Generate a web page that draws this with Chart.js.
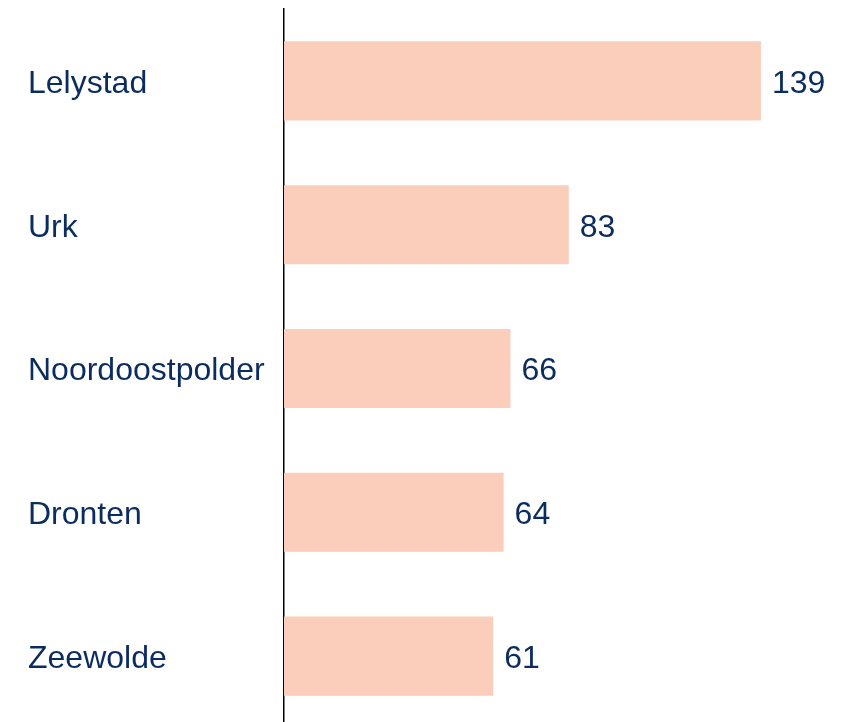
<!DOCTYPE html>
<html>
<head>
<meta charset="utf-8">
<script src="https://cdn.jsdelivr.net/npm/chart.js@4/dist/chart.umd.min.js"></script>
<style>
html, body { margin: 0; padding: 0; overflow: hidden; background: #fff; }
#wrap { width: 846px; height: 722px; overflow: hidden; }
</style>
</head>
<body>
<div id="wrap"><canvas id="c" width="846" height="728"></canvas></div>
<script>
const categories = ["Lelystad", "Urk", "Noordoostpolder", "Dronten", "Zeewolde"];
const values = [139, 83, 66, 64, 61];

const textColor = "#0b2c5f";
const fontFamily = "'Liberation Sans', Arial, sans-serif";

const valueLabels = {
  id: "valueLabels",
  afterDatasetsDraw(chart) {
    const ctx = chart.ctx;
    const meta = chart.getDatasetMeta(0);
    ctx.save();
    ctx.font = "32px " + fontFamily;
    ctx.fillStyle = textColor;
    ctx.textAlign = "left";
    ctx.textBaseline = "middle";
    meta.data.forEach((bar, i) => {
      ctx.fillText(String(values[i]), bar.x + 11, bar.y + 3);
    });
    ctx.restore();
  }
};

new Chart(document.getElementById("c"), {
  type: "bar",
  data: {
    labels: categories,
    datasets: [{
      data: values,
      backgroundColor: "#facebb",
      borderWidth: 0,
      barPercentage: 0.55,
      categoryPercentage: 1
    }]
  },
  options: {
    indexAxis: "y",
    responsive: false,
    animation: false,
    layout: { padding: { left: 28, top: 9, right: 13, bottom: 0 } },
    plugins: { legend: { display: false }, tooltip: { enabled: false } },
    scales: {
      x: { display: false, min: 0, max: 160 },
      y: {
        grid: { display: false },
        border: { display: true, color: "#000", width: 1.5 },
        ticks: {
          crossAlign: "far",
          color: textColor,
          font: { family: fontFamily, size: 32 },
          padding: 0,
          labelOffset: 3
        },
        afterFit(scale) {
          scale.width = 256;
          scale.paddingTop = 0;
          scale.paddingBottom = 0;
        }
      }
    }
  },
  plugins: [valueLabels]
});
</script>
</body>
</html>
